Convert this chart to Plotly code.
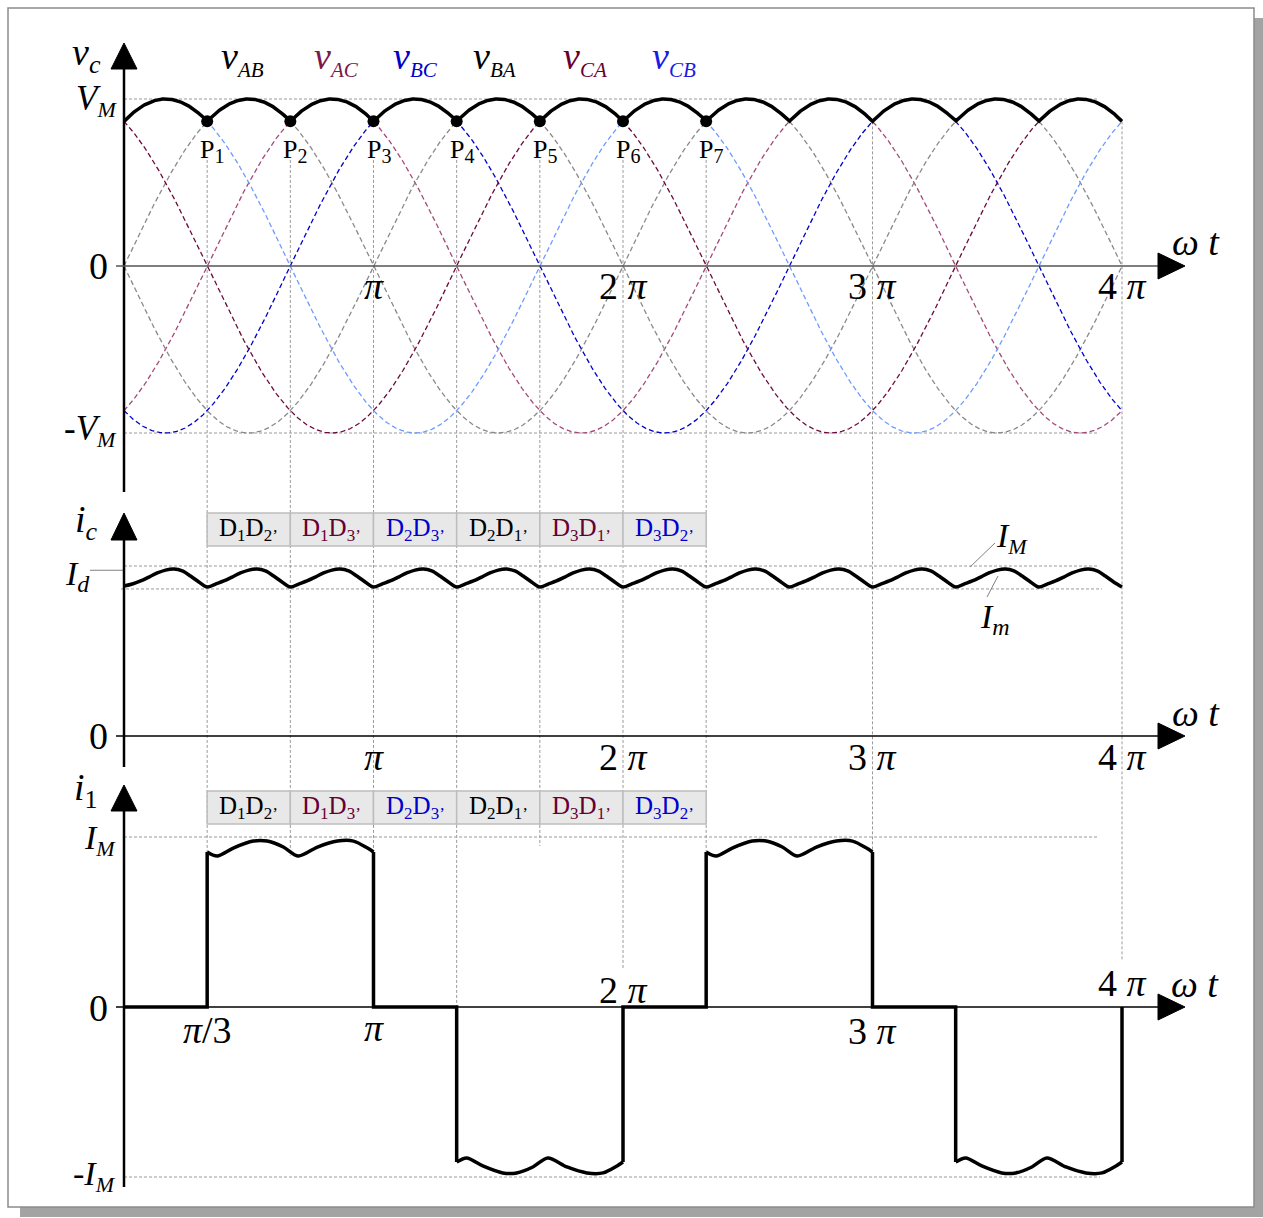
import numpy as np
import plotly.graph_objects as go

PI = np.pi

# ---------------- data ----------------
voltage_labels = ["AB", "AC", "BC", "BA", "CA", "CB"]
voltage_phase_deg = [0, -60, -120, -180, -240, -300]
voltage_line_colors = ["#8a8a8a", "#a34a78", "#0000cc", "#8a8a8a", "#6b0a3c", "#6e9bff"]
voltage_label_colors = ["#000000", "#7a1a4a", "#0000cc", "#000000", "#660033", "#1a1ae6"]
voltage_label_x_px = [242, 336, 415, 494, 585, 674]
V_M = 1.0
WT_END = 4 * PI

point_names = ["1", "2", "3", "4", "5", "6", "7"]
point_k = [1, 2, 3, 4, 5, 6, 7]          # multiples of pi/3

ic_frac = [0.0, 0.1, 0.2, 0.3, 0.4, 0.5, 0.6, 0.7, 0.8, 0.9, 1.0]
ic_vals = [0.882, 0.894, 0.912, 0.935, 0.959, 0.976, 0.982, 0.971, 0.941, 0.906, 0.876]
I_M = 1.0
I_m = 0.865
I_d = 0.975

i1_frac = [0.0, 0.06, 0.157, 0.277, 0.361, 0.458, 0.548, 0.663, 0.783, 0.88, 0.964, 1.0]
i1_vals = [0.912, 0.888, 0.935, 0.976, 0.976, 0.941, 0.888, 0.941, 0.976, 0.976, 0.935, 0.912]
i1_start_k = [1, 4, 7, 10]
i1_sign = [1, -1, 1, -1]

diode_pairs = [("1", "2"), ("1", "3"), ("2", "3"), ("2", "1"), ("3", "1"), ("3", "2")]
diode_colors = ["#000000", "#660033", "#0000cc", "#000000", "#660033", "#0000cc"]

pi_ticks = [1, 2, 3, 4]

# ---------------- geometry (pixel anchors of the drawing) ----------------
W, H = 1263, 1218
X0_PX = 124.0
PI_PX = 249.5
PX_PER_RAD = PI_PX / PI
ZERO_PX = [266.0, 736.0, 1007.0]
UNIT_PX = [167.0, 170.0, 170.0]
YREF = ["y", "y2", "y3"]
FONT = "Liberation Serif, Times New Roman, serif"


def X(px):
    return (px - X0_PX) / PX_PER_RAD


def Y(panel, py):
    return (ZERO_PX[panel] - py) / UNIT_PX[panel]


def panel_to_y1(panel, v):
    py = ZERO_PX[panel] - v * UNIT_PX[panel]
    return Y(0, py)


fig = go.Figure()

# ---------------- panel 1: line voltages ----------------
theta = np.linspace(0, WT_END, 1601)
waves = []
for lab, ph, col in zip(voltage_labels, voltage_phase_deg, voltage_line_colors):
    v = V_M * np.sin(theta + np.deg2rad(ph))
    waves.append(v)
    fig.add_trace(go.Scatter(x=theta, y=v, mode="lines", yaxis="y",
                             line=dict(color=col, width=1.3, dash="5px,3px"),
                             hoverinfo="skip", name="v" + lab))
env = np.max(np.vstack(waves), axis=0)
fig.add_trace(go.Scatter(x=theta, y=env, mode="lines", yaxis="y",
                         line=dict(color="black", width=3.5), name="envelope"))
pk_x = np.array(point_k) * PI / 3
pk_y = np.max(np.vstack([V_M * np.sin(pk_x + np.deg2rad(ph)) for ph in voltage_phase_deg]), axis=0)
fig.add_trace(go.Scatter(x=pk_x, y=pk_y, mode="markers", yaxis="y",
                         marker=dict(color="black", size=12), name="P"))

# ---------------- panel 2: i_c ----------------
ic_x, ic_y = [], []
for seg in range(12):
    for j, f in enumerate(ic_frac):
        if seg > 0 and j == 0:
            continue
        ic_x.append((seg + f) * PI / 3)
        ic_y.append(ic_vals[j])
fig.add_trace(go.Scatter(x=ic_x, y=ic_y, mode="lines", yaxis="y2",
                         line=dict(color="black", width=3.5, shape="spline", smoothing=0.9),
                         name="ic"))

# ---------------- panel 3: i_1 ----------------
out_x, out_y = [0.0], [0.0]
top_x, top_y = [], []
for k, s in zip(i1_start_k, i1_sign):
    a = k * PI / 3
    b = a + 2 * PI / 3
    out_x += [a, a, None, b, b]
    out_y += [0.0, s * i1_vals[0], None, s * i1_vals[-1], 0.0]
    for f, v in zip(i1_frac, i1_vals):
        top_x.append(a + f * (b - a))
        top_y.append(s * v)
    top_x.append(None)
    top_y.append(None)
fig.add_trace(go.Scatter(x=out_x, y=out_y, mode="lines", yaxis="y3",
                         line=dict(color="black", width=3.5), name="i1 steps"))
fig.add_trace(go.Scatter(x=top_x, y=top_y, mode="lines", yaxis="y3",
                         line=dict(color="black", width=3.5, shape="spline", smoothing=0.8),
                         connectgaps=False, name="i1 tops"))

# ---------------- shapes ----------------
shapes = []
# frame with shadow
shapes.append(dict(type="rect", xref="paper", yref="paper",
                   x0=20 / W, x1=1.0, y0=1 - 1217 / H, y1=1 - 18 / H,
                   fillcolor="#a3a3a3", line=dict(width=0), layer="below"))
shapes.append(dict(type="rect", xref="paper", yref="paper",
                   x0=8 / W, x1=1254 / W, y0=1 - 1207 / H, y1=1 - 8 / H,
                   fillcolor="white", line=dict(color="#8c8c8c", width=1.5), layer="below"))

GRID = dict(color="#9a9a9a", width=1, dash="3px,2px")
# vertical dotted guides
grid_k = [1, 2, 3, 4, 5, 6, 7, 9, 12]
grid_top = [0.635] * 7 + [0.866, 0.866]
grid_bottom_p3 = [0.91, 0.89, 0.91, 0.0, 0.947, 0.218, 0.91, 0.91, 0.276]
for k, t, b in zip(grid_k, grid_top, grid_bottom_p3):
    xx = k * PI / 3
    shapes.append(dict(type="line", xref="x", yref="y", x0=xx, x1=xx,
                       y0=t, y1=panel_to_y1(2, b), line=GRID, layer="below"))
# horizontal dotted guides
hgrid = [(0, V_M, 0, 1097), (0, -V_M, 0, 1097), (1, I_M, 0, 1097), (1, I_m, -3, 1102),
         (2, I_M, 0, 1097), (2, -I_M, 0, 1100)]
for p, v, x0p, x1p in hgrid:
    shapes.append(dict(type="line", xref="x", yref=YREF[p], x0=X(X0_PX + x0p), x1=X(x1p),
                       y0=v, y1=v, line=GRID, layer="below"))

# leader lines
LEAD = dict(color="#808080", width=1)
shapes.append(dict(type="line", xref="x", yref="y2", x0=X(90), x1=0, y0=I_d, y1=I_d, line=LEAD))
shapes.append(dict(type="line", xref="x", yref="y2", x0=X(995), x1=X(970),
                   y0=Y(1, 543), y1=Y(1, 567), line=LEAD))
shapes.append(dict(type="line", xref="x", yref="y2", x0=X(998), x1=X(987),
                   y0=Y(1, 576), y1=Y(1, 597), line=LEAD))

# diode boxes
box_rows = [(1, Y(1, 513), Y(1, 546)), (2, Y(2, 791), Y(2, 824))]
for p, yt, yb in box_rows:
    for i in range(6):
        shapes.append(dict(type="rect", xref="x", yref=YREF[p],
                           x0=(i + 1) * PI / 3, x1=(i + 2) * PI / 3, y0=yb, y1=yt,
                           fillcolor="#e8e8e8", line=dict(color="#bdbdbd", width=1.5)))

# axes
axes_spec = [
    (0, 69, 492, 43, "#555555"),
    (1, 540, 767, 513, "#000000"),
    (2, 811, 1187, 785, "#000000"),
]
for p, vtop, vbot, apex, hcol in axes_spec:
    yr = YREF[p]
    shapes.append(dict(type="line", xref="x", yref=yr, x0=0, x1=0,
                       y0=Y(p, vtop), y1=Y(p, vbot), line=dict(color="black", width=2.5)))
    shapes.append(dict(type="line", xref="x", yref=yr, x0=X(116), x1=X(1160),
                       y0=0, y1=0, line=dict(color=hcol, width=1.5)))
    hw = 13 / PX_PER_RAD
    shapes.append(dict(type="path", xref="x", yref=yr,
                       path=f"M {-hw},{Y(p, vtop)} L {hw},{Y(p, vtop)} L 0,{Y(p, apex)} Z",
                       fillcolor="black", line=dict(color="black", width=1)))
    hh = 13 / UNIT_PX[p]
    shapes.append(dict(type="path", xref="x", yref=yr,
                       path=f"M {X(1158)},{hh} L {X(1158)},{-hh} L {X(1185)},0 Z",
                       fillcolor="black", line=dict(color="black", width=1)))

# ---------------- annotations ----------------
ann = []


def sub(main, s, ss, im=True, isub=True):
    m = f"<i>{main}</i>" if im else main
    t = f"<i>{s}</i>" if isub else s
    return f"{m}<sub><span style='font-size:{ss}px'>{t}</span></sub>"


def add(text, x, y, yref, size, color="black", xanchor="center"):
    ann.append(dict(text=text, x=x, y=y, xref="x", yref=yref, showarrow=False,
                    xanchor=xanchor, yanchor="middle",
                    font=dict(family=FONT, size=size, color=color)))


# panel 1
add(sub("v", "c", 26), X(86), Y(0, 55), "y", 38)
for lab, xp, col in zip(voltage_labels, voltage_label_x_px, voltage_label_colors):
    add(sub("v", lab, 21), X(xp), Y(0, 58), "y", 38, col)
add(sub("V", "M", 22), X(96), Y(0, 100), "y", 35)
add("0", X(98), Y(0, 266), "y", 38)
add("-" + sub("V", "M", 22), X(90), Y(0, 430), "y", 35)
for name, k in zip(point_names, point_k):
    add("P" + f"<sub><span style='font-size:20px'>{name}</span></sub>",
        k * PI / 3 + 5 / PX_PER_RAD, Y(0, 151), "y", 26)
for m in pi_ticks:
    txt = "<i>π</i>" if m == 1 else f"{m} <i>π</i>"
    add(txt, m * PI, Y(0, 286), "y", 38)
add("<i>ω t</i>", X(1196), Y(0, 242), "y", 38)

# panel 2
add(sub("i", "c", 26), X(86), Y(1, 522), "y2", 38)
add(sub("I", "d", 24), X(77), Y(1, 576), "y2", 34)
add("0", X(98), Y(1, 736), "y2", 38)
for m in pi_ticks:
    txt = "<i>π</i>" if m == 1 else f"{m} <i>π</i>"
    add(txt, m * PI, Y(1, 757), "y2", 38)
add("<i>ω t</i>", X(1196), Y(1, 713), "y2", 38)
add(sub("I", "M", 22), X(1012), Y(1, 538), "y2", 34)
add(sub("I", "m", 24), X(995), Y(1, 619), "y2", 34)
for i, ((a, b), col) in enumerate(zip(diode_pairs, diode_colors)):
    txt = (f"D<sub><span style='font-size:17px'>{a}</span></sub>"
           f"D<sub><span style='font-size:17px'>{b}’</span></sub>")
    add(txt, (i + 1.5) * PI / 3, (Y(1, 513) + Y(1, 546)) / 2, "y2", 25, col)

# panel 3
add("<i>i</i><sub><span style='font-size:26px'>1</span></sub>", X(86), Y(2, 790), "y3", 38)
add(sub("I", "M", 22), X(100), Y(2, 840), "y3", 34)
add("0", X(98), Y(2, 1008), "y3", 38)
add("-" + sub("I", "M", 22), X(94), Y(2, 1176), "y3", 34)
add("<i>π</i>/3", PI / 3, Y(2, 1030), "y3", 38)
add("<i>π</i>", PI, Y(2, 1028), "y3", 38)
add("2 <i>π</i>", 2 * PI, Y(2, 990), "y3", 38)
add("3 <i>π</i>", 3 * PI, Y(2, 1031), "y3", 38)
add("4 <i>π</i>", 4 * PI, Y(2, 983), "y3", 38)
add("<i>ω t</i>", X(1195), Y(2, 984), "y3", 38)
for i, ((a, b), col) in enumerate(zip(diode_pairs, diode_colors)):
    txt = (f"D<sub><span style='font-size:17px'>{a}</span></sub>"
           f"D<sub><span style='font-size:17px'>{b}’</span></sub>")
    add(txt, (i + 1.5) * PI / 3, (Y(2, 791) + Y(2, 824)) / 2, "y3", 25, col)

# ---------------- layout ----------------
xr = [X(0), X(W)]


def yrange(p):
    return [Y(p, H), Y(p, 0)]


ax_common = dict(visible=False, showgrid=False, zeroline=False, fixedrange=True)
fig.update_layout(
    width=W, height=H,
    margin=dict(l=0, r=0, t=0, b=0),
    paper_bgcolor="white", plot_bgcolor="rgba(0,0,0,0)",
    showlegend=False,
    xaxis=dict(range=xr, domain=[0, 1], **ax_common),
    yaxis=dict(range=yrange(0), domain=[0, 1], **ax_common),
    yaxis2=dict(range=yrange(1), overlaying="y", anchor="x", **ax_common),
    yaxis3=dict(range=yrange(2), overlaying="y", anchor="x", **ax_common),
    shapes=shapes,
    annotations=ann,
    font=dict(family=FONT),
)

fig.write_html("out.html", config={"displayModeBar": False},
               post_script="document.body.style.margin='0';")
